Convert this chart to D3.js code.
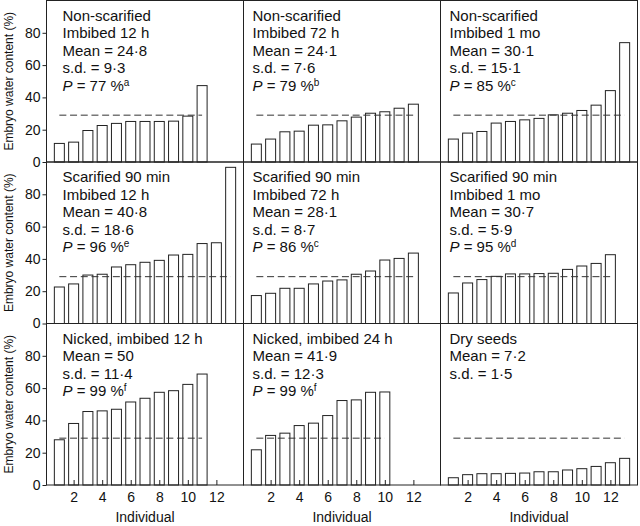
<!DOCTYPE html>
<html>
<head>
<meta charset="utf-8">
<script src="https://d3js.org/d3.v7.min.js"></script>
<style>
  body { margin: 0; background: #ffffff; }
  text { font-family: "Liberation Sans", Arial, Helvetica, sans-serif; fill: #111111; }
  .tick line { stroke: #222222; }
  .tick text { font-size: 14px; }
  .panel-text { font-size: 15px; }
  .axis-title { font-size: 14px; }
  .y-title { font-size: 12px; }
</style>
</head>
<body>
<div id="chart"></div>
<script>
  // bar values (embryo water content, %), sorted per panel
  const nonScar12h  = [11.5, 12.3, 19.5, 22.6, 23.9, 25.1, 25.1, 25.1, 25.3, 28.4, 47.3];
  const nonScar72h  = [11.1, 14.2, 18.7, 19.1, 22.8, 23.0, 25.5, 27.8, 30.2, 31.1, 33.3, 35.8];
  const nonScar1mo  = [14.2, 17.9, 18.9, 24.1, 25.1, 26.1, 27.0, 29.2, 30.2, 31.9, 35.2, 44.2, 73.9];
  const scar12h     = [22.6, 24.5, 30.0, 30.5, 35.0, 36.4, 37.9, 39.1, 42.4, 42.8, 49.5, 50.0, 96.7];
  const scar72h     = [17.3, 18.7, 21.8, 21.8, 24.5, 26.3, 27.0, 30.5, 32.5, 39.3, 40.3, 43.6];
  const scar1mo     = [18.9, 25.1, 27.2, 29.2, 30.7, 30.7, 30.9, 31.1, 33.5, 35.6, 37.2, 42.6];
  const nicked12h   = [28.0, 38.1, 45.5, 45.9, 46.9, 51.4, 53.7, 57.4, 58.4, 62.3, 68.7];
  const nicked24h   = [21.8, 30.7, 32.1, 36.8, 38.3, 43.0, 52.3, 52.7, 57.4, 57.6];
  const drySeeds    = [4.5, 6.4, 7.0, 7.0, 7.2, 7.4, 8.2, 8.2, 9.3, 10.1, 11.5, 13.8, 16.5];

  // panel annotations
  const panelTitles = [
    ["Non-scarified", "Imbibed 12 h"],
    ["Non-scarified", "Imbibed 72 h"],
    ["Non-scarified", "Imbibed 1 mo"],
    ["Scarified 90 min", "Imbibed 12 h"],
    ["Scarified 90 min", "Imbibed 72 h"],
    ["Scarified 90 min", "Imbibed 1 mo"],
    ["Nicked, imbibed 12 h"],
    ["Nicked, imbibed 24 h"],
    ["Dry seeds"]
  ];
  const meanLabels = ["24·8", "24·1", "30·1", "40·8", "28·1", "30·7", "50", "41·9", "7·2"];
  const sdLabels   = ["9·3", "7·6", "15·1", "18·6", "8·7", "5·9", "11·4", "12·3", "1·5"];
  const pLabels    = ["77", "79", "85", "96", "86", "95", "99", "99", null];
  const pLetters   = ["a", "b", "c", "e", "c", "d", "f", "f", null];

  const threshold = 29;
  const yTicks = [0, 20, 40, 60, 80];
  const xTicks = [2, 4, 6, 8, 10, 12];

  const seriesList = [nonScar12h, nonScar72h, nonScar1mo, scar12h, scar72h, scar1mo, nicked12h, nicked24h, drySeeds];

  // layout
  const margin = {top: 0.5, left: 46.5};
  const panelW = 197;
  const panelH = 161.5;
  const textOffset = [16, 9, 9];

  const svg = d3.select("#chart")
    .append("svg")
    .attr("width", 640)
    .attr("height", 526);

  const x = d3.scaleLinear().domain([0.1, 13.9]).range([0, panelW]);
  const y = d3.scaleLinear().domain([0, 100]).range([panelH, 0]);
  const barW = x(1.35) - x(0.65);

  seriesList.forEach((values, i) => {
    const col = i % 3;
    const row = Math.floor(i / 3);
    const g = svg.append("g")
      .attr("transform", `translate(${margin.left + col * panelW}, ${margin.top + row * panelH})`);

    // bars
    g.selectAll("rect.bar")
      .data(values)
      .join("rect")
      .attr("class", "bar")
      .attr("x", (d, j) => x(j + 1) - barW / 2)
      .attr("y", d => y(d))
      .attr("width", barW)
      .attr("height", d => y(0) - y(d))
      .attr("fill", "#ffffff")
      .attr("stroke", "#222222")
      .attr("stroke-width", 1);

    // threshold dashed line
    g.append("line")
      .attr("x1", x(1))
      .attr("x2", x(values.length))
      .attr("y1", y(threshold))
      .attr("y2", y(threshold))
      .attr("stroke", "#333333")
      .attr("stroke-width", 1)
      .attr("stroke-dasharray", "7,3.7");

    // axes
    if (col === 0) {
      g.append("g")
        .call(d3.axisLeft(y).tickValues(yTicks).tickSize(4).tickPadding(2))
        .call(a => a.select(".domain").remove());

      svg.append("text")
        .attr("class", "y-title")
        .attr("text-anchor", "middle")
        .attr("transform", `translate(13, ${margin.top + row * panelH + panelH / 2}) rotate(-90)`)
        .text("Embryo water content (%)");
    }
    if (row === 2) {
      g.append("g")
        .attr("transform", `translate(0, ${panelH})`)
        .call(d3.axisBottom(x).tickValues(xTicks).tickSize(-5).tickPadding(7))
        .call(a => a.select(".domain").remove());

      g.append("text")
        .attr("class", "axis-title")
        .attr("x", panelW / 2)
        .attr("y", panelH + 37)
        .attr("text-anchor", "middle")
        .text("Individual");
    }

    // frame
    g.append("rect")
      .attr("width", panelW)
      .attr("height", panelH)
      .attr("fill", "none")
      .attr("stroke", "#222222")
      .attr("stroke-width", 1);

    // annotation text
    const lines = panelTitles[i].concat([`Mean = ${meanLabels[i]}`, `s.d. = ${sdLabels[i]}`]);
    const tx = textOffset[col];
    lines.forEach((t, k) => {
      g.append("text")
        .attr("class", "panel-text")
        .attr("x", tx)
        .attr("y", 20 + k * 17.5)
        .text(t);
    });
    if (pLabels[i]) {
      const pt = g.append("text")
        .attr("class", "panel-text")
        .attr("x", tx)
        .attr("y", 20 + lines.length * 17.5);
      pt.append("tspan").style("font-style", "italic").text("P");
      pt.append("tspan").text(` = ${pLabels[i]} %`);
      pt.append("tspan")
        .attr("dy", -5)
        .style("font-size", "10px")
        .text(pLetters[i]);
    }
  });
</script>
</body>
</html>
